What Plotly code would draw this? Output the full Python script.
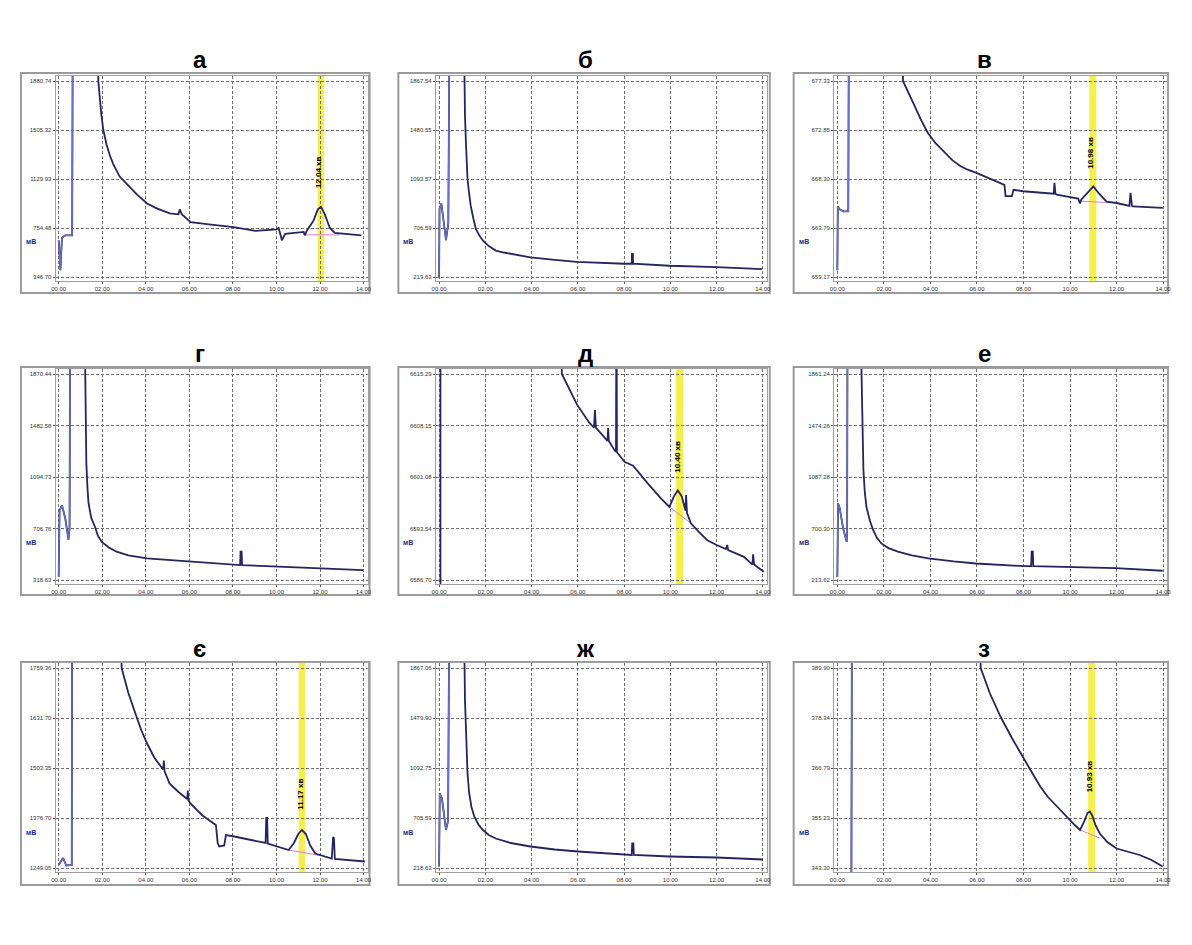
import plotly.graph_objects as go

# page body has an 8px margin; figure is sized to fit inside it
PAD = 8
W, H = 1192 - 2 * PAD, 945 - 2 * PAD

PANEL_TITLES = ["а", "б", "в", "г", "д", "е", "є", "ж", "з"]

X_TICK_TEXT = ["00.00", "02.00", "04.00", "06.00", "08.00", "10.00", "12.00", "14.00"]
X_TICK_VALS = [0, 2, 4, 6, 8, 10, 12, 14]
Y_TICK_VALS = [0, 1, 2, 3, 4]

Y_TICKS_A = ["346.70", "754.48", "1129.93", "1505.32", "1880.74"]
Y_TICKS_B = ["219.63", "706.59", "1093.57", "1480.55", "1867.54"]
Y_TICKS_V = ["659.17", "663.79", "668.30", "672.85", "677.33"]
Y_TICKS_G = ["318.63", "706.76", "1094.73", "1482.58", "1870.44"]
Y_TICKS_D = ["6586.70", "6593.54", "6601.08", "6608.15", "6615.29"]
Y_TICKS_E = ["213.62", "700.30", "1087.28", "1474.26", "1861.24"]
Y_TICKS_YE = ["1249.05", "1376.70", "1503.35", "1631.70", "1759.36"]
Y_TICKS_ZH = ["218.63", "705.59", "1092.75", "1479.90", "1867.06"]
Y_TICKS_Z = ["343.30", "355.23", "366.79", "378.34", "389.90"]

# signal traces: time (min) and signal (grid units)
A_T = [0.0, 0.08, 0.15, 0.3, 0.6, 0.62, 0.65, 1.78, 1.82, 1.87, 1.95, 2.05, 2.2, 2.35, 2.5, 2.8, 3.0, 3.28, 3.6, 4.06, 4.5, 5.1, 5.5, 5.56, 5.65, 6.06, 7.0, 8.03, 9.03, 10.0, 10.1, 10.25, 10.4, 11.25, 11.3, 11.4, 11.7, 11.9, 12.04, 12.2, 12.45, 12.68, 13.9]
A_V = [0.75, 0.14, 0.8, 0.85, 0.85, 0.85, 6, 6, 4.0, 3.7, 3.35, 3.0, 2.7, 2.48, 2.31, 2.05, 1.95, 1.83, 1.68, 1.5, 1.4, 1.3, 1.28, 1.38, 1.28, 1.12, 1.07, 1.02, 0.94, 0.97, 1.0, 0.75, 0.88, 0.92, 0.85, 0.95, 1.15, 1.38, 1.43, 1.3, 1.0, 0.9, 0.85]

B_T = [0.0, 0.02, 0.1, 0.2, 0.3, 0.4, 0.43, 0.46, 1.05, 1.09, 1.12, 1.16, 1.23, 1.3, 1.37, 1.48, 1.59, 1.75, 1.9, 2.15, 2.45, 2.8, 3.16, 3.95, 5.0, 5.95, 8.03, 8.33, 8.34, 8.38, 8.39, 9.96, 12.0, 13.97]
B_V = [0.0, 1.4, 1.5, 1.1, 0.75, 1.1, 6, 6, 6, 4.0, 3.3, 2.75, 2.0, 1.7, 1.45, 1.2, 0.98, 0.84, 0.74, 0.63, 0.54, 0.5, 0.47, 0.40, 0.35, 0.31, 0.27, 0.27, 0.47, 0.47, 0.27, 0.23, 0.20, 0.16]

V_T = [0.0, 0.02, 0.1, 0.26, 0.4, 0.47, 0.5, 2.78, 2.82, 3.05, 3.32, 3.6, 3.88, 4.2, 4.6, 4.95, 5.3, 5.6, 5.95, 6.5, 7.0, 7.18, 7.23, 7.5, 7.57, 7.98, 9.3, 9.33, 9.37, 9.43, 10.35, 10.43, 10.48, 10.75, 11.0, 11.25, 11.57, 12.0, 12.55, 12.6, 12.66, 12.7, 13.98]
V_V = [0.14, 1.44, 1.38, 1.34, 1.34, 1.34, 6, 6, 4.0, 3.75, 3.49, 3.2, 2.95, 2.74, 2.54, 2.38, 2.26, 2.19, 2.13, 2.02, 1.92, 1.88, 1.65, 1.65, 1.78, 1.75, 1.7, 1.92, 1.7, 1.68, 1.6, 1.5, 1.58, 1.72, 1.85, 1.7, 1.54, 1.51, 1.45, 1.72, 1.45, 1.44, 1.41]

G_T = [0.0, 0.04, 0.15, 0.3, 0.45, 0.5, 0.53, 0.56, 1.18, 1.22, 1.27, 1.32, 1.37, 1.5, 1.67, 1.8, 1.98, 2.3, 2.66, 3.2, 4.06, 5.0, 6.03, 8.01, 8.33, 8.35, 8.4, 8.42, 10.03, 12.04, 13.98]
G_V = [0.06, 1.36, 1.45, 1.2, 0.78, 1.0, 6, 6, 6, 4.0, 2.27, 1.8, 1.49, 1.2, 1.03, 0.86, 0.74, 0.63, 0.55, 0.48, 0.42, 0.39, 0.36, 0.29, 0.29, 0.55, 0.55, 0.29, 0.26, 0.23, 0.19]

D_T = [0.06, 0.06, 5.2, 5.31, 5.96, 6.5, 6.7, 6.74, 6.78, 7.0, 7.28, 7.31, 7.34, 7.6, 7.65, 7.67, 7.69, 8.03, 8.39, 9.03, 9.6, 9.96, 10.15, 10.32, 10.5, 10.65, 10.68, 10.72, 10.89, 11.2, 11.6, 12.0, 12.4, 12.46, 12.5, 13.18, 13.55, 13.58, 13.62, 14.04]
D_V = [-1, 6, 6, 4.0, 3.41, 3.05, 2.96, 3.3, 2.96, 2.85, 2.7, 2.95, 2.7, 2.51, 2.49, 6, 2.48, 2.29, 2.22, 1.87, 1.58, 1.42, 1.62, 1.74, 1.62, 1.35, 1.65, 1.3, 1.1, 0.95, 0.77, 0.68, 0.6, 0.68, 0.58, 0.45, 0.3, 0.5, 0.3, 0.16]

E_T = [0.0, 0.03, 0.1, 0.25, 0.4, 0.42, 0.44, 0.47, 1.0, 1.04, 1.08, 1.12, 1.18, 1.25, 1.4, 1.54, 1.7, 1.89, 2.2, 2.6, 3.2, 3.91, 5.0, 5.95, 7.98, 8.33, 8.35, 8.4, 8.42, 9.93, 11.96, 13.98]
E_V = [0.06, 1.49, 1.4, 1.0, 0.74, 0.9, 6, 6, 6, 4.0, 2.8, 2.14, 1.7, 1.42, 1.15, 0.97, 0.82, 0.71, 0.62, 0.55, 0.48, 0.42, 0.36, 0.32, 0.27, 0.27, 0.55, 0.55, 0.27, 0.25, 0.23, 0.18]

YE_T = [0.0, 0.2, 0.35, 0.55, 0.6, 0.62, 2.8, 2.89, 3.2, 3.57, 3.8, 4.06, 4.4, 4.8, 4.83, 4.86, 5.09, 5.5, 5.9, 5.93, 5.96, 6.05, 6.6, 7.22, 7.3, 7.37, 7.6, 7.68, 8.06, 9.5, 9.53, 9.57, 9.6, 10.56, 10.8, 11.0, 11.17, 11.35, 11.55, 11.78, 12.54, 12.6, 12.64, 12.68, 14.06]
YE_V = [0.06, 0.2, 0.05, 0.06, 0.06, 6, 6, 4.0, 3.5, 3.03, 2.75, 2.49, 2.2, 1.97, 2.15, 1.94, 1.69, 1.52, 1.38, 1.55, 1.35, 1.29, 1.05, 0.86, 0.5, 0.43, 0.45, 0.66, 0.63, 0.5, 1.0, 1.0, 0.49, 0.36, 0.5, 0.68, 0.76, 0.68, 0.45, 0.29, 0.19, 0.62, 0.6, 0.18, 0.13]

ZH_T = [0.0, 0.03, 0.12, 0.22, 0.3, 0.39, 0.42, 0.45, 1.05, 1.09, 1.12, 1.16, 1.23, 1.3, 1.4, 1.52, 1.7, 1.9, 2.15, 2.45, 3.1, 3.95, 5.0, 6.0, 8.03, 8.33, 8.35, 8.4, 8.42, 9.96, 12.0, 14.0]
ZH_V = [0.03, 1.49, 1.4, 1.0, 0.76, 0.95, 6, 6, 6, 4.0, 3.35, 2.83, 1.89, 1.5, 1.22, 1.03, 0.87, 0.76, 0.66, 0.59, 0.5, 0.43, 0.37, 0.33, 0.26, 0.26, 0.49, 0.49, 0.26, 0.23, 0.21, 0.17]

Z_T = [0.6, 0.61, 0.63, 6.05, 6.16, 6.55, 7.01, 7.5, 7.98, 8.35, 8.72, 9.05, 9.4, 9.7, 10.0, 10.2, 10.43, 10.6, 10.75, 10.85, 10.95, 11.1, 11.28, 11.6, 12.0, 12.5, 12.99, 13.5, 13.98]
Z_V = [-1, 6, 6, 6, 4.0, 3.5, 3.03, 2.6, 2.23, 1.92, 1.63, 1.42, 1.25, 1.1, 0.96, 0.86, 0.76, 0.92, 1.1, 1.13, 1.05, 0.85, 0.69, 0.52, 0.39, 0.33, 0.26, 0.16, 0.03]

# end time of the lighter-coloured early part of each trace (None = no early part)
EARLY_END = [1.78, 1.05, 2.78, 1.18, None, 1.0, 2.8, 1.05, 6.05]

# detected peak retention time, label span and baseline
PEAK_T = [12.04, None, 10.98, None, 10.4, None, 11.17, None, 10.93]
LABEL_LO = [1.55, None, 1.93, None, 1.8, None, 0.9, None, 1.22]
LABEL_HI = [2.72, None, 3.12, None, 3.0, None, 2.06, None, 2.46]
BASE_T0 = [11.3, None, 10.4, None, 9.96, None, 10.56, None, 10.43]
BASE_T1 = [12.9, None, 11.6, None, 10.89, None, 12.0, None, 11.28]
BASE_V0 = [0.86, None, 1.55, None, 1.42, None, 0.36, None, 0.76]
BASE_V1 = [0.86, None, 1.52, None, 1.1, None, 0.25, None, 0.6]

TS = [A_T, B_T, V_T, G_T, D_T, E_T, YE_T, ZH_T, Z_T]
VS = [A_V, B_V, V_V, G_V, D_V, E_V, YE_V, ZH_V, Z_V]
YTICKS = [Y_TICKS_A, Y_TICKS_B, Y_TICKS_V, Y_TICKS_G, Y_TICKS_D, Y_TICKS_E, Y_TICKS_YE, Y_TICKS_ZH, Y_TICKS_Z]

# ---- layout geometry (window pixels) ----
COLS = [(55, 362), (438, 764), (839, 1167)]     # x px of t=0 and t=14
ROWS = [(277, 81), (580, 374), (868, 668)]      # y px of v=0 and v=4
FRAME_X = [(17, 368), (397, 771), (795, 1172)]
FRAME_Y = [(73, 293), (367, 595), (662, 885)]
TITLE_X = [197, 585, 987]
TITLE_Y = [60, 353, 648]
XR = [-0.14, 14.2]
YR = [-0.08, 4.1]

NAVY = "#25255f"
LIGHT = "#6c70c2"
GRID = "#707070"


def px(x):
    return (x - PAD) / W


def py(y):
    return 1 - (y - PAD) / H


fig = go.Figure()
layout = dict(
    width=W, height=H, margin=dict(l=0, r=0, t=0, b=0),
    paper_bgcolor="white", plot_bgcolor="rgba(0,0,0,0)",
    showlegend=False, shapes=[], annotations=[],
)

for i in range(9):
    r, c = divmod(i, 3)
    suf = "" if i == 0 else str(i + 1)
    xa, ya = "x" + suf, "y" + suf
    g0, g1 = COLS[c]
    ppx = (g1 - g0) / 14.0
    b, t = ROWS[r]
    ppy = (b - t) / 4.0
    left = g0 + XR[0] * ppx
    right = g0 + XR[1] * ppx
    bot = b - YR[0] * ppy
    top = b - YR[1] * ppy

    layout["xaxis" + suf] = dict(
        domain=[px(left), px(right)], range=XR, anchor=ya,
        tickvals=X_TICK_VALS, ticktext=X_TICK_TEXT,
        tickfont=dict(size=6, color="#333", family="Liberation Sans"),
        ticks="outside", ticklen=2, tickcolor="#555",
        showgrid=True, gridcolor=GRID, griddash="3px,2px", gridwidth=1,
        zeroline=False, showline=True, mirror=True, linecolor="#a0a0a0", linewidth=1,
        fixedrange=True,
    )
    layout["yaxis" + suf] = dict(
        domain=[py(bot), py(top)], range=YR, anchor=xa,
        tickvals=Y_TICK_VALS, ticktext=YTICKS[i],
        tickfont=dict(size=6, color="#333", family="Liberation Sans"),
        ticks="outside", ticklen=2, tickcolor="#555",
        showgrid=True, gridcolor=GRID, griddash="3px,2px", gridwidth=1,
        zeroline=False, showline=True, mirror=True, linecolor="#a0a0a0", linewidth=1,
        fixedrange=True,
    )

    fx0, fx1 = FRAME_X[c]
    fy0, fy1 = FRAME_Y[r]
    layout["shapes"].append(dict(
        type="rect", xref="paper", yref="paper",
        x0=px(fx0), x1=px(fx1), y0=py(fy1), y1=py(fy0),
        line=dict(color="#9a9a9a", width=2), fillcolor="white", layer="below",
    ))

    if PEAK_T[i] is not None:
        p = PEAK_T[i]
        layout["shapes"].append(dict(
            type="rect", xref=xa, yref=ya + " domain",
            x0=p - 0.15, x1=p + 0.15, y0=0, y1=1,
            fillcolor="#f2ec2a", opacity=0.85, line=dict(width=0), layer="below",
        ))
        fig.add_trace(go.Scatter(
            x=[BASE_T0[i], BASE_T1[i]], y=[BASE_V0[i], BASE_V1[i]],
            mode="lines", line=dict(color="#e27ad6", width=1),
            xaxis=xa, yaxis=ya, hoverinfo="skip",
        ))

    T, V = TS[i], VS[i]
    fig.add_trace(go.Scatter(
        x=T, y=V, mode="lines", line=dict(color=NAVY, width=1.8),
        xaxis=xa, yaxis=ya, hoverinfo="skip",
    ))
    if EARLY_END[i] is not None:
        n = sum(1 for tt in T if tt <= EARLY_END[i])
        fig.add_trace(go.Scatter(
            x=T[:n], y=V[:n], mode="lines", line=dict(color=LIGHT, width=1.4),
            xaxis=xa, yaxis=ya, hoverinfo="skip",
        ))

    if PEAK_T[i] is not None:
        layout["annotations"].append(dict(
            x=PEAK_T[i] - 0.1, y=(LABEL_LO[i] + LABEL_HI[i]) / 2, xref=xa, yref=ya,
            text="<b>%.2f хв</b>" % PEAK_T[i], textangle=-90, showarrow=False,
            font=dict(size=8, color="black", family="Liberation Sans"),
        ))

    # panel title
    layout["annotations"].append(dict(
        x=px(TITLE_X[c]), y=py(TITLE_Y[r]), xref="paper", yref="paper",
        text="<b>%s</b>" % PANEL_TITLES[i], showarrow=False,
        font=dict(size=24, color="black", family="Liberation Sans"),
        xanchor="center", yanchor="middle",
    ))
    # unit label
    layout["annotations"].append(dict(
        x=px(fx0 + 3), y=py(b - 0.72 * ppy), xref="paper", yref="paper",
        text="<b>мВ</b>", showarrow=False, xanchor="left", yanchor="middle",
        font=dict(size=7, color="#1e2c8c", family="Liberation Sans"),
    ))

fig.update_layout(**layout)
fig.write_html("out.html")
